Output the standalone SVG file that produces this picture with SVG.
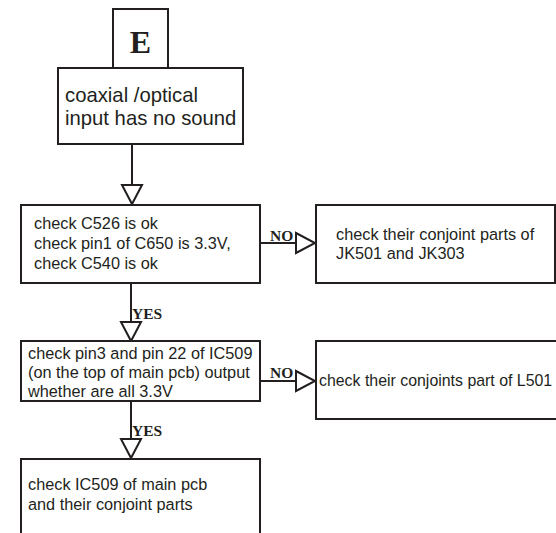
<svg xmlns="http://www.w3.org/2000/svg" width="556" height="533" viewBox="0 0 556 533">
<style>
.box{fill:#fff;stroke:#231f20;stroke-width:2}
.t{font-family:"Liberation Sans",Arial,sans-serif;font-size:16.3px;fill:#231f20}
.t20{font-family:"Liberation Sans",Arial,sans-serif;font-size:20.3px;fill:#231f20}
.lbl{font-family:"Liberation Serif","Times New Roman",serif;font-weight:bold;font-size:15.5px;fill:#231f20}
.big{font-family:"Liberation Serif","Times New Roman",serif;font-weight:bold;font-size:32px;fill:#231f20}
.c{fill:none;stroke:#231f20;stroke-width:2}
</style>
<defs>
<marker id="ah" markerUnits="userSpaceOnUse" markerWidth="24" markerHeight="24" refX="19" refY="10" orient="auto" overflow="visible">
<path d="M0,0 L19,10 L0,20 Z" fill="#fff" stroke="#231f20" stroke-width="2" stroke-linejoin="miter"/>
</marker>
</defs>
<rect width="556" height="533" fill="#fff"/>
<g id="connectors">
<path class="c" d="M132,144 V204" marker-end="url(#ah)"/>
<path class="c" d="M131,283 V341" marker-end="url(#ah)"/>
<path class="c" d="M131,401 V458" marker-end="url(#ah)"/>
<path class="c" d="M260,243 H315" marker-end="url(#ah)"/>
<path class="c" d="M260,381 H315" marker-end="url(#ah)"/>
<text class="lbl" x="270" y="241">NO</text>
<text class="lbl" x="270" y="378">NO</text>
<text class="lbl" x="132" y="319">YES</text>
<text class="lbl" x="132" y="436">YES</text>
</g>
<g id="nodeE">
<rect class="box" x="113" y="9" width="55" height="59"/>
<text class="big" x="140.5" y="53" text-anchor="middle">E</text>
</g>
<g id="nodeStart">
<rect class="box" x="58" y="68" width="185" height="76"/>
<text class="t20" x="65" y="102">coaxial /optical</text>
<text class="t20" x="65" y="125">input has no sound</text>
</g>
<g id="nodeCheck1">
<rect class="box" x="21" y="205" width="239" height="78"/>
<text class="t" x="34" y="228.5">check C526 is ok</text>
<text class="t" x="34" y="248.5">check pin1 of C650 is 3.3V,</text>
<text class="t" x="34" y="268.5">check C540 is ok</text>
</g>
<g id="nodeJK">
<rect class="box" x="316" y="205" width="239" height="78"/>
<text class="t" x="336" y="240">check their conjoint parts of</text>
<text class="t" x="336" y="259">JK501 and JK303</text>
</g>
<g id="nodeCheck2">
<rect class="box" x="21" y="341" width="239" height="60"/>
<text class="t" x="28" y="359">check pin3 and pin 22 of IC509</text>
<text class="t" x="28" y="378">(on the top of main pcb) output</text>
<text class="t" x="28" y="397">whether are all 3.3V</text>
</g>
<g id="nodeL501">
<rect class="box" x="316" y="341" width="250" height="78"/>
<text class="t" x="319" y="386" style="font-size:15.9px">check their conjoints part of L501</text>
</g>
<g id="nodeIC509">
<rect class="box" x="21" y="459" width="239" height="90"/>
<text class="t" x="28" y="490">check IC509 of main pcb</text>
<text class="t" x="28" y="510">and their conjoint parts</text>
</g>
</svg>
